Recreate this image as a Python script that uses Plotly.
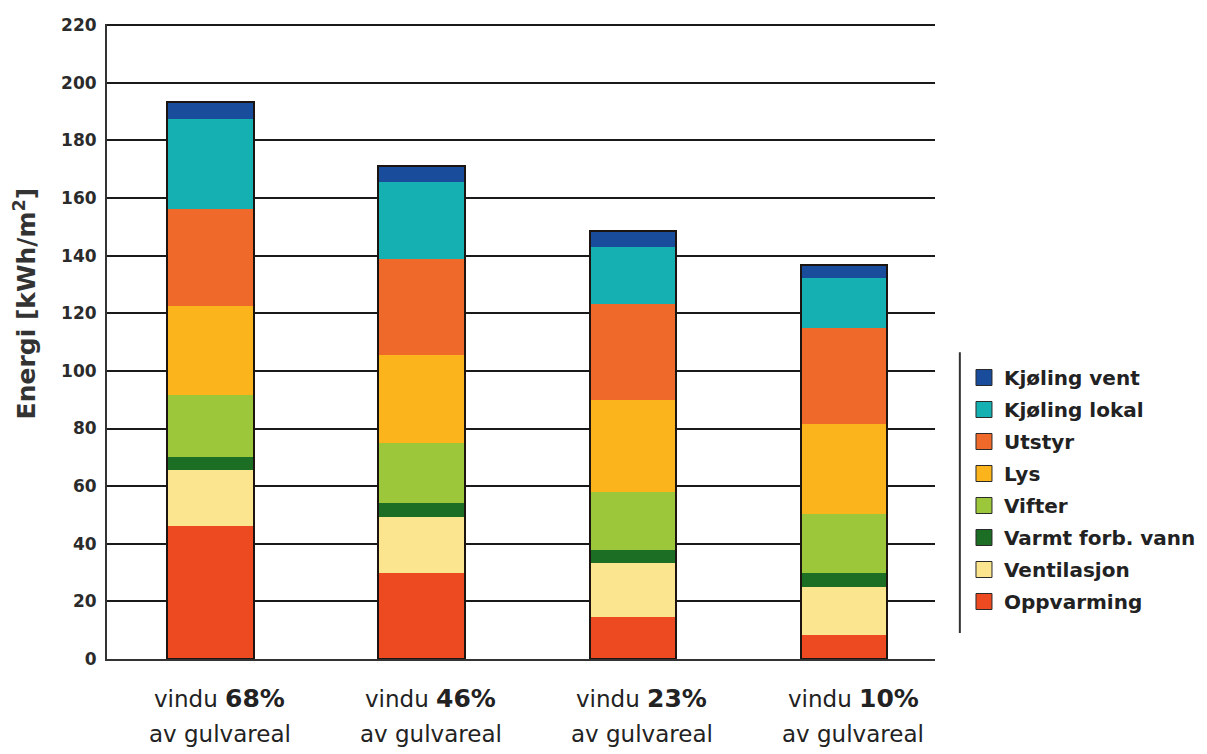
import numpy as np
import plotly.graph_objects as go

# Window share of floor area for each building variant
categories = ["68%", "46%", "23%", "10%"]

# Energy use per end use, kWh/m² (bottom of the stack first)
series_names = [
    "Oppvarming",
    "Ventilasjon",
    "Varmt forb. vann",
    "Vifter",
    "Lys",
    "Utstyr",
    "Kjøling lokal",
    "Kjøling vent",
]
oppvarming = [46.0, 30.0, 14.7, 8.3]
ventilasjon = [19.6, 19.2, 18.5, 16.8]
varmt_vann = [4.4, 4.9, 4.6, 4.6]
vifter = [21.6, 20.8, 20.2, 20.8]
lys = [30.9, 30.6, 31.8, 31.2]
utstyr = [33.8, 33.5, 33.5, 33.3]
kjoling_lokal = [31.2, 26.5, 19.6, 17.3]
kjoling_vent = [6.0, 5.5, 5.5, 4.5]

series_values = [oppvarming, ventilasjon, varmt_vann, vifter, lys, utstyr,
                 kjoling_lokal, kjoling_vent]
series_colors = ["#ee4a22", "#fbe58e", "#1c6e24", "#9dc73b", "#fbb41c",
                 "#ef6a2a", "#14b0b2", "#1a4c9c"]

y_ticks = list(range(0, 221, 20))
line1_prefix = "vindu"
line2_text = "av gulvareal"

BOLD = "DejaVu Sans"
BAR_W = 0.41
X_RANGE = [-0.49, 3.43]

fig = go.Figure()

# Stacked segments
for name, vals, col in zip(series_names, series_values, series_colors):
    fig.add_trace(go.Bar(
        x=categories, y=vals, name=name, width=BAR_W,
        marker=dict(color=col, line=dict(width=0)),
        showlegend=False, hoverinfo="name+y",
    ))

# Dark outline around each full column
totals = np.sum(np.array(series_values), axis=0)
fig.add_trace(go.Bar(
    x=categories, y=totals, width=BAR_W, xaxis="x2",
    marker=dict(color="rgba(0,0,0,0)", line=dict(color="#1b1410", width=2)),
    showlegend=False, hoverinfo="skip",
))

# Legend swatches, top of the stack listed first
for name, col in reversed(list(zip(series_names, series_colors))):
    fig.add_trace(go.Scatter(
        x=[None], y=[None], mode="markers", name=name, legendgroup=name,
        marker=dict(symbol="square", size=16, color=col,
                    line=dict(color="#2a2a2a", width=1)),
    ))

# Two-line category labels under the columns
for cat in categories:
    fig.add_annotation(
        x=cat, xref="x", y=0, yref="paper", yanchor="middle", yshift=-39,
        xshift=9, showarrow=False,
        text=f"{line1_prefix} <span style='font-size:25px'><b>{cat}</b></span>",
        font=dict(family="DejaVu Sans", size=23, color="#222222"),
    )
    fig.add_annotation(
        x=cat, xref="x", y=0, yref="paper", yanchor="middle", yshift=-75,
        xshift=9, showarrow=False, text=line2_text,
        font=dict(family="DejaVu Sans", size=23, color="#222222"),
    )

# Y axis title
fig.add_annotation(
    x=0, xref="paper", xanchor="center", xshift=-82,
    y=0.56, yref="paper", yanchor="middle", textangle=-90,
    showarrow=False, text="<b>Energi [kWh/m<sup>2</sup>]</b>",
    font=dict(family=BOLD, size=25, color="#333333"),
)

# Rule on the left of the legend
fig.add_shape(type="line", xref="paper", yref="paper",
              x0=1.030, x1=1.030, y0=0.041, y1=0.483,
              line=dict(color="#333333", width=2))

fig.update_layout(
    width=1207, height=754,
    margin=dict(l=107, r=272, t=24, b=95, autoexpand=False),
    paper_bgcolor="white", plot_bgcolor="white",
    barmode="stack",
    xaxis=dict(
        type="category", categoryarray=categories, range=X_RANGE,
        showticklabels=False, ticks="", showgrid=False, zeroline=False,
        showline=True, linecolor="#333333", linewidth=2,
    ),
    xaxis2=dict(
        type="category", categoryarray=categories, range=X_RANGE,
        overlaying="x", visible=False,
    ),
    yaxis=dict(
        range=[0, 220.4], tickvals=y_ticks, showgrid=True,
        gridcolor="#1a1a1a", gridwidth=2, zeroline=False,
        showline=True, linecolor="#333333", linewidth=2, ticks="",
        ticklabelstandoff=5,
        tickfont=dict(family=BOLD, size=17, color="#2b2b2b", weight="bold"),
    ),
    legend=dict(
        x=1.035, xanchor="left", y=0.474, yanchor="top",
        traceorder="grouped", tracegroupgap=3, itemwidth=30,
        bgcolor="rgba(0,0,0,0)",
        font=dict(family=BOLD, size=20, color="#222222", weight="bold"),
    ),
)

fig.write_html("out.html")
